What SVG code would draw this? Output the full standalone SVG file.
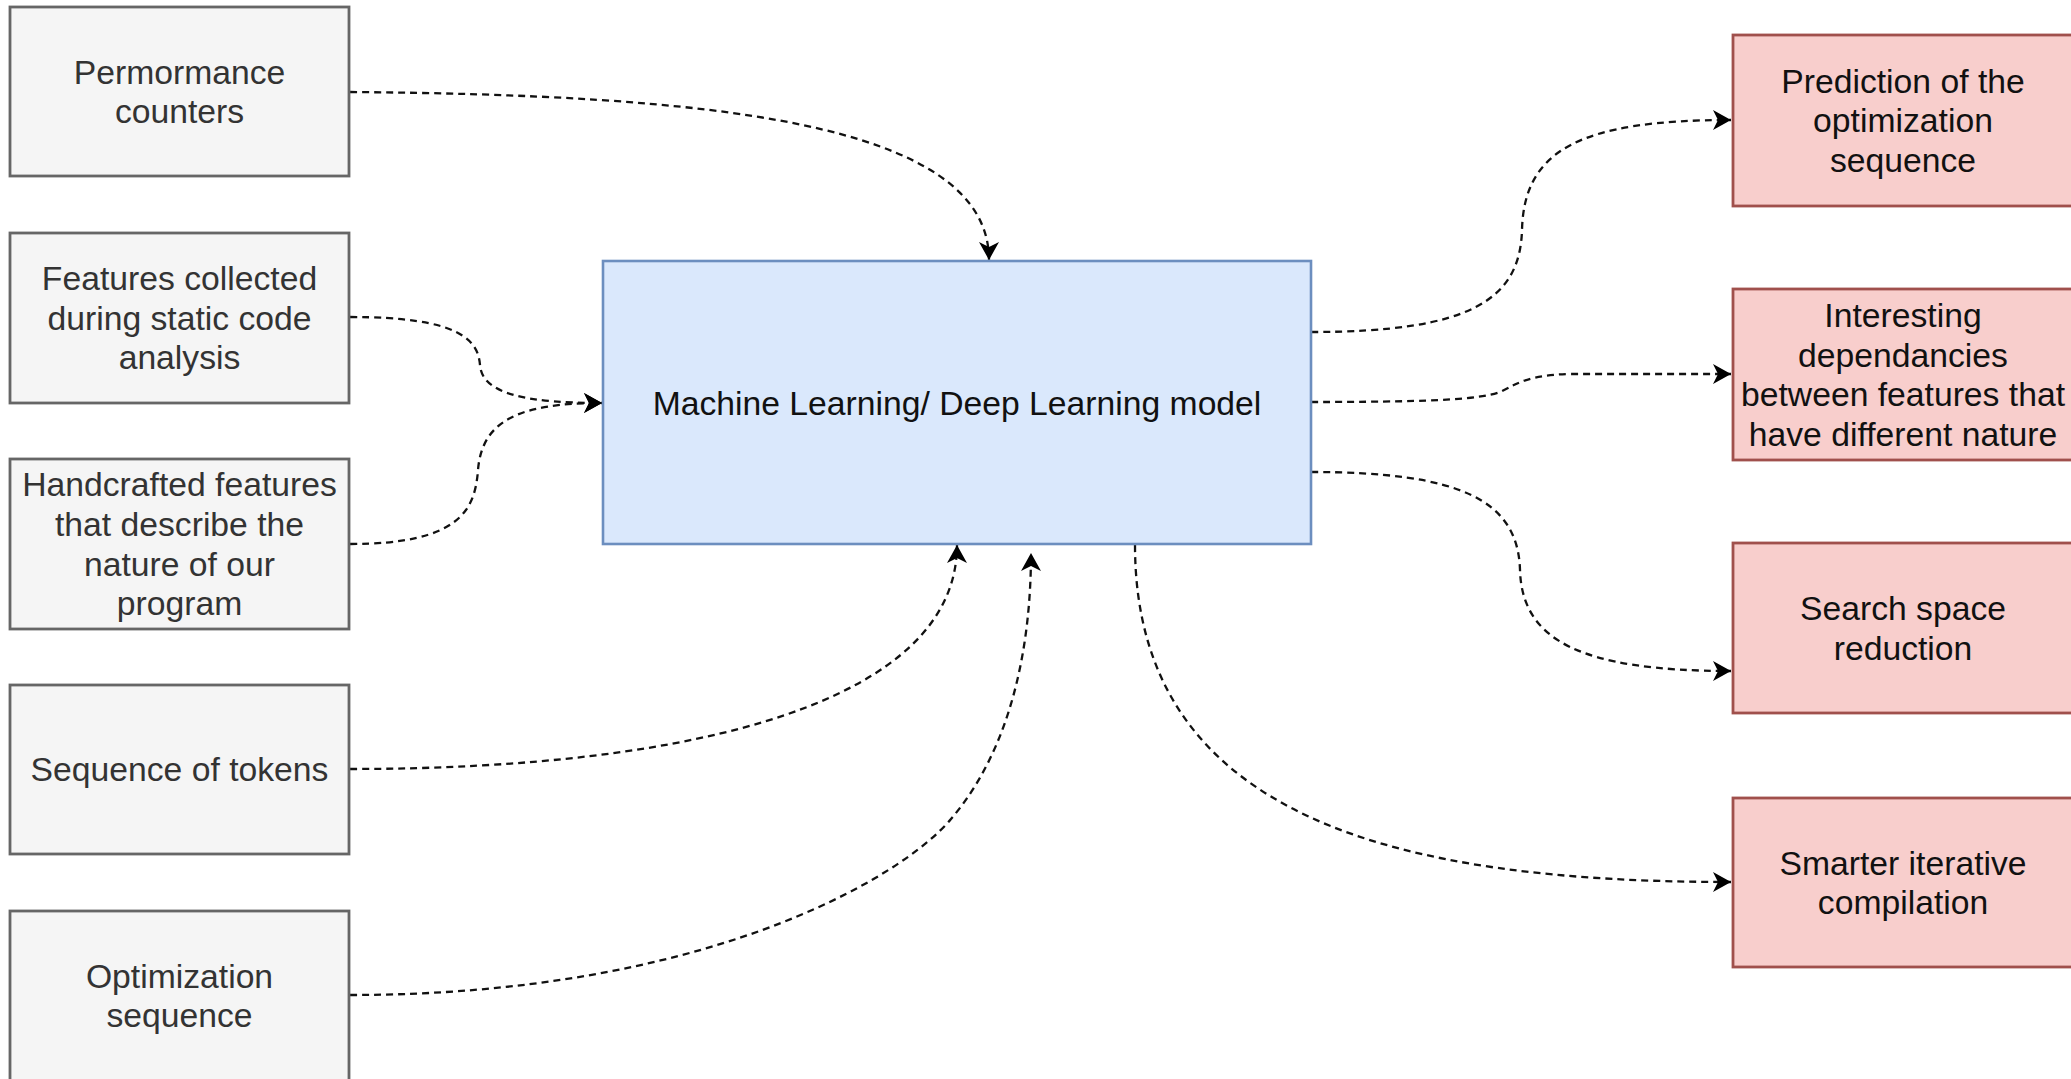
<svg xmlns="http://www.w3.org/2000/svg" width="2071" height="1079" viewBox="0 0 2071 1079">
<defs>
<style>
.in rect{fill:#f5f5f5;stroke:#666666;stroke-width:2.8}
.mid rect{fill:#dae8fc;stroke:#6c8ebf;stroke-width:2.6}
.out rect{fill:#f8cecc;stroke:#a0504c;stroke-width:2.8}
text{font-family:"Liberation Sans",Arial,Helvetica,sans-serif;font-size:33.7px;text-anchor:middle}
.in text{fill:#333333}
.mid text,.out text{fill:#111111}
.edge{fill:none;stroke:#111111;stroke-width:2.3;stroke-dasharray:7 5;marker-end:url(#arr)}
</style>
<marker id="arr" markerUnits="userSpaceOnUse" markerWidth="18" markerHeight="20" viewBox="0 0 18 20" refX="18" refY="10" orient="auto">
<path d="M0,0 L18,10 L0,20 L5,10 Z" fill="#000000"/>
</marker>
</defs>
<rect width="2071" height="1079" fill="#ffffff"/>
<g id="connectors">
<path class="edge" d="M350,92 C700,95 989,120 989,260"/>
<path class="edge" d="M350,317 C460,317 478,340 480,365 C482,395 530,403 602,403"/>
<path class="edge" d="M350,544 C460,544 475,510 478,470 C482,420 520,403 602,403"/>
<path class="edge" d="M350,769 C700,769 957,700 957,545"/>
<path class="edge" d="M350,995 C700,995 900,880 951,819 C1010,750 1031,650 1031,553"/>
<path class="edge" d="M1135,545 C1135,820 1400,882 1731,882"/>
<path class="edge" d="M1311,332 C1470,332 1520,300 1522,230 C1524,150 1580,120 1731,120"/>
<path class="edge" d="M1311,402 C1420,402 1480,400 1500,392 C1520,382 1530,375 1570,374 L1731,374"/>
<path class="edge" d="M1311,472 C1460,472 1518,500 1520,570 C1522,640 1580,671 1731,671"/>
</g>
<g id="n1" class="in"><rect x="10" y="7" width="339" height="169"/><text x="179.5" y="83.5">Permormance<tspan x="179.5" dy="39.6">counters</tspan></text></g>
<g id="n2" class="in"><rect x="10" y="233" width="339" height="170"/><text x="179.5" y="290.2">Features collected<tspan x="179.5" dy="39.6">during static code</tspan><tspan x="179.5" dy="39.6">analysis</tspan></text></g>
<g id="n3" class="in"><rect x="10" y="459" width="339" height="170"/><text x="179.5" y="496.4">Handcrafted features<tspan x="179.5" dy="39.6">that describe the</tspan><tspan x="179.5" dy="39.6">nature of our</tspan><tspan x="179.5" dy="39.6">program</tspan></text></g>
<g id="n4" class="in"><rect x="10" y="685" width="339" height="169"/><text x="179.5" y="781.3">Sequence of tokens</text></g>
<g id="n5" class="in"><rect x="10" y="911" width="339" height="170"/><text x="179.5" y="987.5">Optimization<tspan x="179.5" dy="39.6">sequence</tspan></text></g>
<g id="model" class="mid"><rect x="603" y="261" width="708" height="283"/><text x="957" y="414.8">Machine Learning/ Deep Learning model</text></g>
<g id="r1" class="out"><rect x="1733" y="35" width="340" height="171"/><text x="1903" y="92.7">Prediction of the<tspan x="1903" dy="39.6">optimization</tspan><tspan x="1903" dy="39.6">sequence</tspan></text></g>
<g id="r2" class="out"><rect x="1733" y="289" width="340" height="171"/><text x="1903" y="326.9">Interesting<tspan x="1903" dy="39.6">dependancies</tspan><tspan x="1903" dy="39.6">between features that</tspan><tspan x="1903" dy="39.6">have different nature</tspan></text></g>
<g id="r3" class="out"><rect x="1733" y="543" width="340" height="170"/><text x="1903" y="619.9">Search space<tspan x="1903" dy="39.6">reduction</tspan></text></g>
<g id="r4" class="out"><rect x="1733" y="798" width="340" height="169"/><text x="1903" y="874.5">Smarter iterative<tspan x="1903" dy="39.6">compilation</tspan></text></g>
</svg>
